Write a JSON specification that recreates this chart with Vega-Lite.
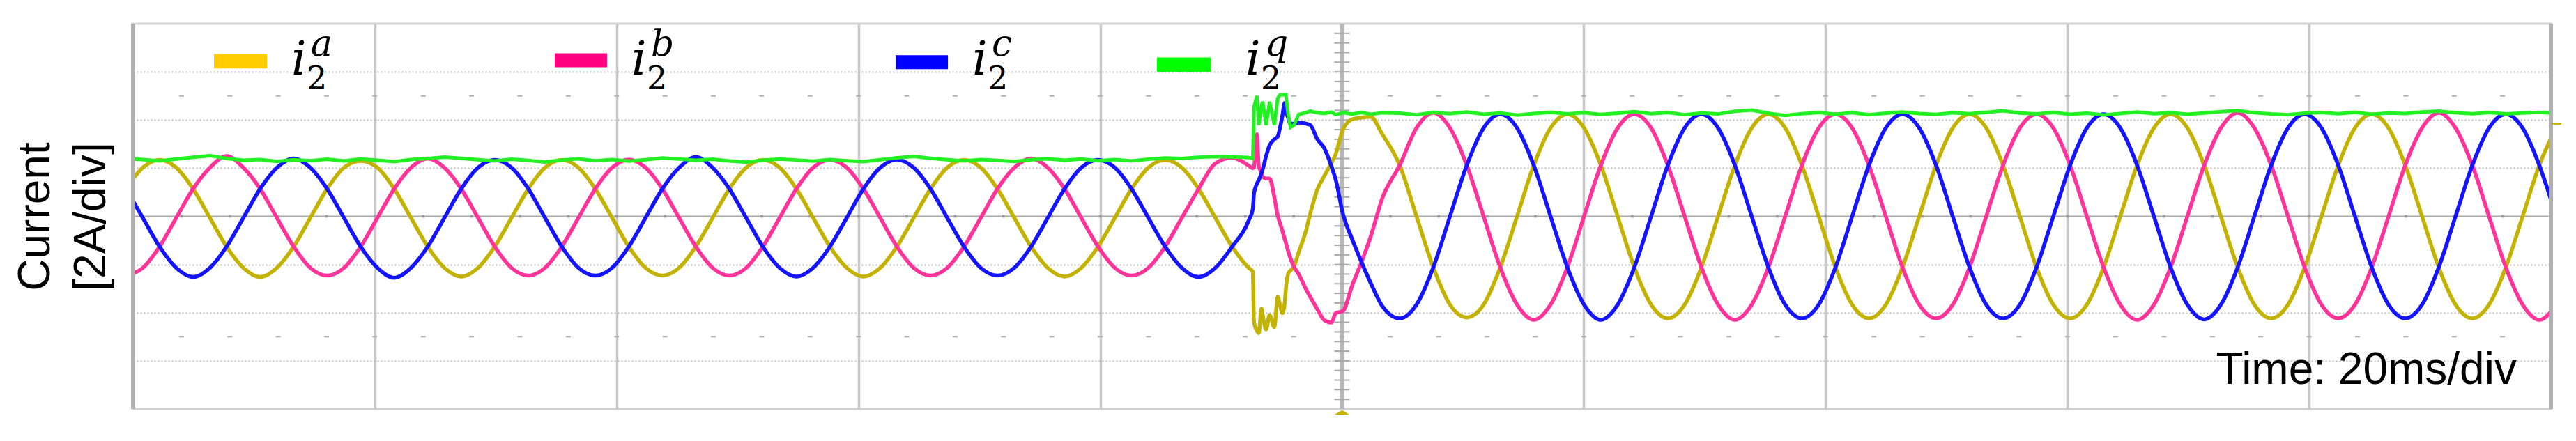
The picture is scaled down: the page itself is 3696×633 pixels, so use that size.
{
  "$schema": "https://vega.github.io/schema/vega-lite/v6.json",
  "width": 3469,
  "height": 553,
  "autosize": {"type": "none"},
  "padding": {"left": 191, "top": 34, "right": 36, "bottom": 46},
  "background": "white",
  "config": {"view": {"stroke": "#d2d2d2", "strokeWidth": 3}},
  "data": {"values": [{}]},
  "datasets": {
    "w": [
      {"t":-0.59,"a":1.14,"b":-2.46,"c":1.14,"q":2.40},
      {"t":0.80,"a":2.02,"b":-2.14,"c":-0.06,"q":2.36},
      {"t":2.19,"a":2.34,"b":-1.26,"c":-1.26,"q":2.30},
      {"t":3.57,"a":2.02,"b":-0.06,"c":-2.14,"q":2.38},
      {"t":4.96,"a":1.14,"b":1.14,"c":-2.52,"q":2.45},
      {"t":6.35,"a":-0.06,"b":2.02,"c":-2.14,"q":2.52},
      {"t":7.73,"a":-1.26,"b":2.50,"c":-1.26,"q":2.40},
      {"t":9.12,"a":-2.14,"b":2.02,"c":-0.06,"q":2.33},
      {"t":10.51,"a":-2.52,"b":1.14,"c":1.14,"q":2.36},
      {"t":11.89,"a":-2.14,"b":-0.06,"c":2.02,"q":2.28},
      {"t":13.28,"a":-1.26,"b":-1.26,"c":2.40,"q":2.35},
      {"t":14.66,"a":-0.06,"b":-2.14,"c":2.02,"q":2.31},
      {"t":16.05,"a":1.14,"b":-2.46,"c":1.14,"q":2.37},
      {"t":17.44,"a":2.02,"b":-2.14,"c":-0.06,"q":2.30},
      {"t":18.82,"a":2.30,"b":-1.26,"c":-1.26,"q":2.38},
      {"t":20.21,"a":2.02,"b":-0.06,"c":-2.14,"q":2.33},
      {"t":21.60,"a":1.14,"b":1.14,"c":-2.55,"q":2.27},
      {"t":22.98,"a":-0.06,"b":2.02,"c":-2.14,"q":2.36},
      {"t":24.37,"a":-1.26,"b":2.40,"c":-1.26,"q":2.40},
      {"t":25.75,"a":-2.14,"b":2.02,"c":-0.06,"q":2.46},
      {"t":27.14,"a":-2.50,"b":1.14,"c":1.14,"q":2.41},
      {"t":28.53,"a":-2.14,"b":-0.06,"c":2.02,"q":2.35},
      {"t":29.91,"a":-1.26,"b":-1.26,"c":2.34,"q":2.30},
      {"t":31.30,"a":-0.06,"b":-2.14,"c":2.02,"q":2.37},
      {"t":32.69,"a":1.14,"b":-2.46,"c":1.14,"q":2.32},
      {"t":34.07,"a":2.02,"b":-2.14,"c":-0.06,"q":2.26},
      {"t":35.46,"a":2.34,"b":-1.26,"c":-1.26,"q":2.34},
      {"t":36.84,"a":2.02,"b":-0.06,"c":-2.14,"q":2.39},
      {"t":38.23,"a":1.14,"b":1.14,"c":-2.46,"q":2.31},
      {"t":39.62,"a":-0.06,"b":2.02,"c":-2.14,"q":2.36},
      {"t":41.00,"a":-1.26,"b":2.36,"c":-1.26,"q":2.29},
      {"t":42.39,"a":-2.14,"b":2.02,"c":-0.06,"q":2.35},
      {"t":43.78,"a":-2.46,"b":1.14,"c":1.14,"q":2.42},
      {"t":45.16,"a":-2.14,"b":-0.06,"c":2.02,"q":2.38},
      {"t":46.55,"a":-1.26,"b":-1.26,"c":2.46,"q":2.33},
      {"t":47.94,"a":-0.06,"b":-2.14,"c":2.02,"q":2.37},
      {"t":49.32,"a":1.14,"b":-2.46,"c":1.14,"q":2.30},
      {"t":50.71,"a":2.02,"b":-2.14,"c":-0.06,"q":2.25},
      {"t":52.09,"a":2.34,"b":-1.26,"c":-1.26,"q":2.33},
      {"t":53.48,"a":2.02,"b":-0.06,"c":-2.14,"q":2.38},
      {"t":54.87,"a":1.14,"b":1.14,"c":-2.50,"q":2.34},
      {"t":56.25,"a":-0.06,"b":2.02,"c":-2.14,"q":2.29},
      {"t":57.64,"a":-1.26,"b":2.34,"c":-1.26,"q":2.36},
      {"t":59.03,"a":-2.14,"b":2.02,"c":-0.06,"q":2.31},
      {"t":60.41,"a":-2.50,"b":1.14,"c":1.14,"q":2.27},
      {"t":61.80,"a":-2.14,"b":-0.06,"c":2.02,"q":2.35},
      {"t":63.18,"a":-1.26,"b":-1.26,"c":2.36,"q":2.43},
      {"t":64.57,"a":-0.06,"b":-2.14,"c":2.02,"q":2.49},
      {"t":65.96,"a":1.14,"b":-2.46,"c":1.14,"q":2.41},
      {"t":67.34,"a":2.02,"b":-2.14,"c":-0.06,"q":2.35},
      {"t":68.73,"a":2.34,"b":-1.26,"c":-1.26,"q":2.30},
      {"t":70.12,"a":2.02,"b":-0.06,"c":-2.14,"q":2.36},
      {"t":71.50,"a":1.14,"b":1.14,"c":-2.46,"q":2.32},
      {"t":72.89,"a":-0.06,"b":2.02,"c":-2.14,"q":2.28},
      {"t":74.28,"a":-1.26,"b":2.40,"c":-1.26,"q":2.35},
      {"t":75.66,"a":-2.14,"b":2.02,"c":-0.06,"q":2.39},
      {"t":77.05,"a":-2.50,"b":1.14,"c":1.14,"q":2.33},
      {"t":78.43,"a":-2.14,"b":-0.06,"c":2.02,"q":2.38},
      {"t":79.82,"a":-1.26,"b":-1.26,"c":2.34,"q":2.31},
      {"t":81.21,"a":-0.06,"b":-2.14,"c":2.02,"q":2.36},
      {"t":82.59,"a":1.14,"b":-2.46,"c":1.14,"q":2.30},
      {"t":83.98,"a":2.02,"b":-2.14,"c":-0.06,"q":2.37},
      {"t":85.37,"a":2.34,"b":-1.26,"c":-1.26,"q":2.42},
      {"t":86.75,"a":2.02,"b":-0.06,"c":-2.14,"q":2.40},
      {"t":88.14,"a":1.14,"b":1.14,"c":-2.52,"q":2.45},
      {"t":89.52,"a":-0.06,"b":2.20,"c":-2.14,"q":2.48},
      {"t":90.91,"a":-1.26,"b":2.44,"c":-1.26,"q":2.47},
      {"t":92.30,"a":-2.15,"b":2.10,"c":-0.15,"q":2.44},
      {"t":92.62,"a":-2.30,"b":2.00,"c":0.30,"q":2.40},
      {"t":92.72,"a":-4.40,"b":2.05,"c":0.95,"q":4.55},
      {"t":92.96,"a":-4.75,"b":3.41,"c":1.35,"q":5.00},
      {"t":93.11,"a":-4.85,"b":2.10,"c":1.50,"q":3.79},
      {"t":93.34,"a":-3.83,"b":1.80,"c":1.80,"q":4.60},
      {"t":93.44,"a":-4.10,"b":1.65,"c":1.95,"q":4.76},
      {"t":93.72,"a":-4.70,"b":1.57,"c":2.50,"q":3.79},
      {"t":94.01,"a":-4.10,"b":1.57,"c":2.95,"q":4.76},
      {"t":94.40,"a":-4.60,"b":0.80,"c":3.20,"q":3.79},
      {"t":94.68,"a":-3.35,"b":0.03,"c":3.31,"q":4.90},
      {"t":94.88,"a":-3.70,"b":-0.30,"c":3.70,"q":5.05},
      {"t":95.07,"a":-4.02,"b":-0.60,"c":4.18,"q":5.05},
      {"t":95.26,"a":-3.60,"b":-0.95,"c":4.71,"q":5.05},
      {"t":95.36,"a":-3.00,"b":-1.10,"c":4.40,"q":5.05},
      {"t":95.55,"a":-2.38,"b":-1.45,"c":4.08,"q":4.20},
      {"t":95.74,"a":-2.25,"b":-1.75,"c":3.85,"q":3.70},
      {"t":96.03,"a":-2.09,"b":-2.10,"c":3.85,"q":3.79},
      {"t":96.41,"a":-1.50,"b":-2.40,"c":3.89,"q":4.23},
      {"t":96.99,"a":-0.65,"b":-3.00,"c":3.85,"q":4.30},
      {"t":97.38,"a":0.13,"b":-3.35,"c":3.79,"q":4.37},
      {"t":97.95,"a":1.10,"b":-3.85,"c":3.21,"q":4.30},
      {"t":98.53,"a":1.67,"b":-4.31,"c":2.83,"q":4.27},
      {"t":99.11,"a":2.20,"b":-4.41,"c":2.10,"q":4.33},
      {"t":99.49,"a":2.60,"b":-4.02,"c":1.50,"q":4.22},
      {"t":100.07,"a":3.60,"b":-3.93,"c":0.12,"q":4.30},
      {"t":100.84,"a":4.03,"b":-2.87,"c":-0.95,"q":4.25},
      {"t":101.61,"a":4.10,"b":-1.90,"c":-1.90,"q":4.31},
      {"t":102.37,"a":4.13,"b":-0.84,"c":-2.77,"q":4.24},
      {"t":103.33,"a":3.41,"b":0.75,"c":-3.73,"q":4.30},
      {"t":104.77,"a":2.12,"b":2.12,"c":-4.24,"q":4.28},
      {"t":106.16,"a":0,"b":3.67,"c":-3.67,"q":4.22},
      {"t":107.55,"a":-2.12,"b":4.30,"c":-2.12,"q":4.31},
      {"t":108.93,"a":-3.67,"b":3.67,"c":0,"q":4.26},
      {"t":110.32,"a":-4.20,"b":2.12,"c":2.12,"q":4.33},
      {"t":111.71,"a":-3.67,"b":0,"c":3.67,"q":4.24},
      {"t":113.09,"a":-2.12,"b":-2.12,"c":4.24,"q":4.29},
      {"t":114.48,"a":0,"b":-3.67,"c":3.67,"q":4.20},
      {"t":115.86,"a":2.12,"b":-4.30,"c":2.12,"q":4.27},
      {"t":117.25,"a":3.67,"b":-3.67,"c":0,"q":4.32},
      {"t":118.64,"a":4.24,"b":-2.12,"c":-2.12,"q":4.25},
      {"t":120.02,"a":3.67,"b":0,"c":-3.67,"q":4.30},
      {"t":121.41,"a":2.12,"b":2.12,"c":-4.30,"q":4.23},
      {"t":122.80,"a":0,"b":3.67,"c":-3.67,"q":4.28},
      {"t":124.18,"a":-2.12,"b":4.24,"c":-2.12,"q":4.35},
      {"t":125.57,"a":-3.67,"b":3.67,"c":0,"q":4.26},
      {"t":126.95,"a":-4.24,"b":2.12,"c":2.12,"q":4.31},
      {"t":128.34,"a":-3.67,"b":0,"c":3.67,"q":4.22},
      {"t":129.73,"a":-2.12,"b":-2.12,"c":4.24,"q":4.29},
      {"t":131.11,"a":0,"b":-3.67,"c":3.67,"q":4.25},
      {"t":132.50,"a":2.12,"b":-4.30,"c":2.12,"q":4.36},
      {"t":133.89,"a":3.67,"b":-3.67,"c":0,"q":4.41},
      {"t":135.27,"a":4.24,"b":-2.12,"c":-2.12,"q":4.28},
      {"t":136.66,"a":3.67,"b":0,"c":-3.67,"q":4.19},
      {"t":138.04,"a":2.12,"b":2.12,"c":-4.24,"q":4.26},
      {"t":139.43,"a":0,"b":3.67,"c":-3.67,"q":4.31},
      {"t":140.82,"a":-2.12,"b":4.24,"c":-2.12,"q":4.24},
      {"t":142.20,"a":-3.67,"b":3.67,"c":0,"q":4.30},
      {"t":143.59,"a":-4.24,"b":2.12,"c":2.12,"q":4.22},
      {"t":144.98,"a":-3.67,"b":0,"c":3.67,"q":4.28},
      {"t":146.36,"a":-2.12,"b":-2.12,"c":4.24,"q":4.33},
      {"t":147.75,"a":0,"b":-3.67,"c":3.67,"q":4.27},
      {"t":149.14,"a":2.12,"b":-4.24,"c":2.12,"q":4.23},
      {"t":150.52,"a":3.67,"b":-3.67,"c":0,"q":4.30},
      {"t":151.91,"a":4.24,"b":-2.12,"c":-2.12,"q":4.26},
      {"t":153.29,"a":3.67,"b":0,"c":-3.67,"q":4.32},
      {"t":154.68,"a":2.12,"b":2.12,"c":-4.24,"q":4.38},
      {"t":156.07,"a":0,"b":3.67,"c":-3.67,"q":4.29},
      {"t":157.45,"a":-2.12,"b":4.24,"c":-2.12,"q":4.25},
      {"t":158.84,"a":-3.67,"b":3.67,"c":0,"q":4.31},
      {"t":160.23,"a":-4.24,"b":2.12,"c":2.12,"q":4.24},
      {"t":161.61,"a":-3.67,"b":0,"c":3.67,"q":4.28},
      {"t":163.00,"a":-2.12,"b":-2.12,"c":4.24,"q":4.21},
      {"t":164.38,"a":0,"b":-3.67,"c":3.67,"q":4.27},
      {"t":165.77,"a":2.12,"b":-4.30,"c":2.12,"q":4.33},
      {"t":167.16,"a":3.67,"b":-3.67,"c":0,"q":4.26},
      {"t":168.54,"a":4.24,"b":-2.12,"c":-2.12,"q":4.30},
      {"t":169.93,"a":3.67,"b":0,"c":-3.67,"q":4.24},
      {"t":171.32,"a":2.12,"b":2.12,"c":-4.28,"q":4.29},
      {"t":172.70,"a":0,"b":3.67,"c":-3.67,"q":4.35},
      {"t":174.09,"a":-2.12,"b":4.30,"c":-2.12,"q":4.39},
      {"t":175.47,"a":-3.67,"b":3.67,"c":0,"q":4.30},
      {"t":176.86,"a":-4.24,"b":2.12,"c":2.12,"q":4.25},
      {"t":178.25,"a":-3.67,"b":0,"c":3.67,"q":4.22},
      {"t":179.63,"a":-2.12,"b":-2.12,"c":4.24,"q":4.28},
      {"t":181.02,"a":0,"b":-3.67,"c":3.67,"q":4.31},
      {"t":182.41,"a":2.12,"b":-4.24,"c":2.12,"q":4.26},
      {"t":183.79,"a":3.67,"b":-3.67,"c":0,"q":4.32},
      {"t":185.18,"a":4.24,"b":-2.12,"c":-2.12,"q":4.24},
      {"t":186.57,"a":3.67,"b":0,"c":-3.67,"q":4.29},
      {"t":187.95,"a":2.12,"b":2.12,"c":-4.24,"q":4.27},
      {"t":189.34,"a":0,"b":3.67,"c":-3.67,"q":4.33},
      {"t":190.72,"a":-2.12,"b":4.30,"c":-2.12,"q":4.37},
      {"t":192.11,"a":-3.67,"b":3.67,"c":0,"q":4.30},
      {"t":193.50,"a":-4.24,"b":2.12,"c":2.12,"q":4.26},
      {"t":194.88,"a":-3.67,"b":0,"c":3.67,"q":4.31},
      {"t":196.27,"a":-2.12,"b":-2.12,"c":4.24,"q":4.25},
      {"t":197.66,"a":0,"b":-3.67,"c":3.67,"q":4.29},
      {"t":199.04,"a":2.12,"b":-4.30,"c":2.12,"q":4.32},
      {"t":200.43,"a":3.67,"b":-3.67,"c":0,"q":4.28}
    ],
    "tdots": [
      {"t":4},{"t":8},{"t":12},{"t":16},{"t":20},{"t":24},{"t":28},{"t":32},{"t":36},{"t":40},
      {"t":44},{"t":48},{"t":52},{"t":56},{"t":60},{"t":64},{"t":68},{"t":72},{"t":76},{"t":80},
      {"t":84},{"t":88},{"t":92},{"t":96},{"t":100},{"t":104},{"t":108},{"t":112},{"t":116},{"t":120},
      {"t":124},{"t":128},{"t":132},{"t":136},{"t":140},{"t":144},{"t":148},{"t":152},{"t":156},{"t":160},
      {"t":164},{"t":168},{"t":172},{"t":176},{"t":180},{"t":184},{"t":188},{"t":192},{"t":196}
    ],
    "vdots": [
      {"v":-7.6},{"v":-7.2},{"v":-6.8},{"v":-6.4},{"v":-6.0},{"v":-5.6},{"v":-5.2},{"v":-4.8},{"v":-4.4},{"v":-4.0},
      {"v":-3.6},{"v":-3.2},{"v":-2.8},{"v":-2.4},{"v":-2.0},{"v":-1.6},{"v":-1.2},{"v":-0.8},{"v":-0.4},
      {"v":0.4},{"v":0.8},{"v":1.2},{"v":1.6},{"v":2.0},{"v":2.4},{"v":2.8},{"v":3.2},{"v":3.6},{"v":4.0},
      {"v":4.4},{"v":4.8},{"v":5.2},{"v":5.6},{"v":6.0},{"v":6.4},{"v":6.8},{"v":7.2},{"v":7.6}
    ]
  },
  "layer": [
    {"mark": {"type": "rule", "color": "#a9a9a9", "strokeWidth": 2}, "encoding": {"y": {"datum": 0}}},
    {"mark": {"type": "rule", "color": "#b8b8b8", "strokeWidth": 6}, "encoding": {"x": {"datum": 100}}},
    {"data": {"name": "vdots"}, "mark": {"type": "tick", "orient": "horizontal", "size": 22, "thickness": 2, "color": "#a8a8a8", "opacity": 1}, "encoding": {"x": {"datum": 100}, "y": {"field": "v", "type": "quantitative"}}},
    {"data": {"name": "tdots"}, "mark": {"type": "square", "size": 14, "color": "#9a9a9a", "opacity": 1}, "encoding": {"x": {"field": "t", "type": "quantitative"}, "y": {"datum": 0}}},
    {"data": {"name": "tdots"}, "mark": {"type": "tick", "orient": "horizontal", "size": 7, "thickness": 2, "color": "#b0b0b0", "opacity": 1}, "encoding": {"x": {"field": "t", "type": "quantitative"}, "y": {"datum": 5}}},
    {"data": {"name": "tdots"}, "mark": {"type": "tick", "orient": "horizontal", "size": 7, "thickness": 2, "color": "#b0b0b0", "opacity": 1}, "encoding": {"x": {"field": "t", "type": "quantitative"}, "y": {"datum": -5}}},
    {
      "data": {"name": "w"},
      "transform": [{"fold": ["a", "b", "c"], "as": ["s", "v"]}],
      "mark": {"type": "line", "interpolate": "monotone", "strokeWidth": 5.5, "clip": true},
      "encoding": {
        "x": {"field": "t", "type": "quantitative", "scale": {"domain": [0, 200], "nice": false, "zero": false},
              "axis": {"values": [20, 40, 60, 80, 120, 140, 160, 180], "grid": true, "gridColor": "#c8c8c8", "gridWidth": 3.5, "labels": false, "ticks": false, "domain": false, "title": null}},
        "y": {"field": "v", "type": "quantitative", "scale": {"domain": [-8, 8], "nice": false, "zero": false},
              "axis": {"values": [-6, -4, -2, 2, 4, 6], "grid": true, "gridColor": "#b9b9b9", "gridWidth": 2, "gridDash": [2, 3], "labels": false, "ticks": false, "domain": false,
                       "title": ["Current", "[2A/div]"], "titleFont": "Liberation Sans", "titleFontSize": 64, "titleFontWeight": "normal", "titleColor": "#000000", "titlePadding": 28, "titleLineHeight": 80}},
        "color": {"field": "s", "type": "nominal", "scale": {"domain": ["a", "b", "c"], "range": ["#c4b200", "#ff3399", "#1414ff"]}, "legend": null}
      }
    },
    {"data": {"name": "w"}, "mark": {"type": "line", "color": "#22f022", "strokeWidth": 5, "clip": true}, "encoding": {"x": {"field": "t", "type": "quantitative"}, "y": {"field": "q", "type": "quantitative"}}},
    {"mark": {"type": "rule", "color": "#b0b0b0", "strokeWidth": 6}, "encoding": {"x": {"datum": 0}}},
    {"mark": {"type": "rule", "color": "#b0b0b0", "strokeWidth": 6}, "encoding": {"x": {"datum": 200}}},
    {"mark": {"type": "rect", "color": "#ffcc00"}, "encoding": {"x": {"datum": 6.69}, "x2": {"datum": 11.07}, "y": {"datum": 6.74}, "y2": {"datum": 6.14}}},
    {"mark": {"type": "rect", "color": "#ff0080"}, "encoding": {"x": {"datum": 34.88}, "x2": {"datum": 39.20}, "y": {"datum": 6.77}, "y2": {"datum": 6.19}}},
    {"mark": {"type": "rect", "color": "#0000ff"}, "encoding": {"x": {"datum": 63.07}, "x2": {"datum": 67.40}, "y": {"datum": 6.69}, "y2": {"datum": 6.11}}},
    {"mark": {"type": "rect", "color": "#00ff00"}, "encoding": {"x": {"datum": 84.69}, "x2": {"datum": 89.13}, "y": {"datum": 6.60}, "y2": {"datum": 5.99}}},
    {"mark": {"type": "text", "text": "i", "font": "DejaVu Serif", "fontStyle": "italic", "fontSize": 68, "align": "left", "baseline": "alphabetic", "color": "#000000"}, "encoding": {"x": {"datum": 13.09}, "y": {"datum": 5.88}}},
    {"mark": {"type": "text", "text": "2", "font": "DejaVu Serif", "fontSize": 46, "align": "left", "baseline": "alphabetic", "dx": 22, "dy": 21, "color": "#000000"}, "encoding": {"x": {"datum": 13.09}, "y": {"datum": 5.88}}},
    {"mark": {"type": "text", "text": "a", "font": "DejaVu Serif", "fontStyle": "italic", "fontSize": 52, "align": "left", "baseline": "alphabetic", "dx": 28, "dy": -27, "color": "#000000"}, "encoding": {"x": {"datum": 13.09}, "y": {"datum": 5.88}}},
    {"mark": {"type": "text", "text": "i", "font": "DejaVu Serif", "fontStyle": "italic", "fontSize": 68, "align": "left", "baseline": "alphabetic", "color": "#000000"}, "encoding": {"x": {"datum": 41.22}, "y": {"datum": 5.88}}},
    {"mark": {"type": "text", "text": "2", "font": "DejaVu Serif", "fontSize": 46, "align": "left", "baseline": "alphabetic", "dx": 22, "dy": 21, "color": "#000000"}, "encoding": {"x": {"datum": 41.22}, "y": {"datum": 5.88}}},
    {"mark": {"type": "text", "text": "b", "font": "DejaVu Serif", "fontStyle": "italic", "fontSize": 52, "align": "left", "baseline": "alphabetic", "dx": 28, "dy": -27, "color": "#000000"}, "encoding": {"x": {"datum": 41.22}, "y": {"datum": 5.88}}},
    {"mark": {"type": "text", "text": "i", "font": "DejaVu Serif", "fontStyle": "italic", "fontSize": 68, "align": "left", "baseline": "alphabetic", "color": "#000000"}, "encoding": {"x": {"datum": 69.41}, "y": {"datum": 5.88}}},
    {"mark": {"type": "text", "text": "2", "font": "DejaVu Serif", "fontSize": 46, "align": "left", "baseline": "alphabetic", "dx": 22, "dy": 21, "color": "#000000"}, "encoding": {"x": {"datum": 69.41}, "y": {"datum": 5.88}}},
    {"mark": {"type": "text", "text": "c", "font": "DejaVu Serif", "fontStyle": "italic", "fontSize": 52, "align": "left", "baseline": "alphabetic", "dx": 28, "dy": -27, "color": "#000000"}, "encoding": {"x": {"datum": 69.41}, "y": {"datum": 5.88}}},
    {"mark": {"type": "text", "text": "i", "font": "DejaVu Serif", "fontStyle": "italic", "fontSize": 68, "align": "left", "baseline": "alphabetic", "color": "#000000"}, "encoding": {"x": {"datum": 92.02}, "y": {"datum": 5.88}}},
    {"mark": {"type": "text", "text": "2", "font": "DejaVu Serif", "fontSize": 46, "align": "left", "baseline": "alphabetic", "dx": 22, "dy": 21, "color": "#000000"}, "encoding": {"x": {"datum": 92.02}, "y": {"datum": 5.88}}},
    {"mark": {"type": "text", "text": "q", "font": "DejaVu Serif", "fontStyle": "italic", "fontSize": 52, "align": "left", "baseline": "alphabetic", "dx": 28, "dy": -27, "color": "#000000"}, "encoding": {"x": {"datum": 92.02}, "y": {"datum": 5.88}}},
    {"mark": {"type": "text", "text": "Time: 20ms/div", "font": "Liberation Sans", "fontSize": 64, "align": "right", "baseline": "alphabetic", "color": "#000000"}, "encoding": {"x": {"datum": 197.17}, "y": {"datum": -6.95}}},
    {"mark": {"type": "point", "shape": "M-1,0.3L1,0.3L0,-0.3Z", "size": 484, "filled": true, "color": "#c4b200", "opacity": 1, "yOffset": 5}, "encoding": {"x": {"datum": 100}, "y": {"datum": -8}}},
    {"mark": {"type": "tick", "orient": "horizontal", "size": 14, "thickness": 3, "color": "#c4b200", "opacity": 1, "xOffset": 8}, "encoding": {"x": {"datum": 200}, "y": {"datum": 3.85}}}
  ]
}
